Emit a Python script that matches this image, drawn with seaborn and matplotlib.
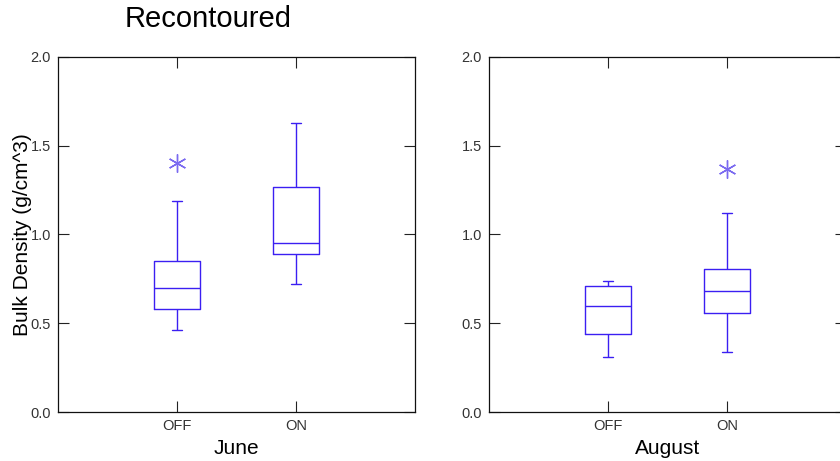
import numpy as np
import pandas as pd
import matplotlib
matplotlib.use("Agg")
import matplotlib.pyplot as plt
import seaborn as sns

# Box summaries per month and treatment: whisker ends, quartiles, median, outliers
treatments = ["OFF", "ON"]
months = ["June", "August"]

june_low = [0.46, 0.72]
june_q1 = [0.58, 0.89]
june_median = [0.70, 0.95]
june_q3 = [0.85, 1.27]
june_high = [1.19, 1.63]
june_outliers = [[1.40], []]

aug_low = [0.31, 0.34]
aug_q1 = [0.44, 0.555]
aug_median = [0.60, 0.68]
aug_q3 = [0.71, 0.805]
aug_high = [0.74, 1.12]
aug_outliers = [[], [1.37]]

yticks = [0.0, 0.5, 1.0, 1.5, 2.0]


def samples(lo, q1, med, q3, hi, out):
    """Observations whose linear-interpolated quartiles equal the summary."""
    if out:
        vals = [lo, q1, q1, med, med, q3, q3, hi] + list(out)
    else:
        vals = [lo, q1, med, q3, hi]
    return vals


def build_frame(low, q1, med, q3, high, outliers):
    rows = []
    for i, t in enumerate(treatments):
        for v in samples(low[i], q1[i], med[i], q3[i], high[i], outliers[i]):
            rows.append({"treatment": t, "density": v})
    return pd.DataFrame(rows)


frames = {
    "June": build_frame(june_low, june_q1, june_median, june_q3, june_high, june_outliers),
    "August": build_frame(aug_low, aug_q1, aug_median, aug_q3, aug_high, aug_outliers),
}

sns.set_style("white")
plt.rcParams["font.family"] = ["Liberation Sans", "DejaVu Sans"]
plt.rcParams["text.color"] = "black"

LINE = "#3b1ff2"
FLIER = "#7a6af0"

fig = plt.figure(figsize=(8.4, 4.61), dpi=100)
W, H = 840.0, 461.0
bottom = (H - 412) / H
height = 355 / H
axes = [
    fig.add_axes([58 / W, bottom, 357 / W, height]),
    fig.add_axes([489 / W, bottom, 357 / W, height]),
]

for ax, month in zip(axes, months):
    sns.boxplot(
        data=frames[month], x="treatment", y="density", order=treatments,
        fill=False, color=LINE, linecolor=LINE, width=0.38, linewidth=1.0,
        whis=1.5, capwidths=0.085,
        flierprops=dict(marker=(6, 2, 0), markersize=13, markeredgecolor=FLIER,
                        markerfacecolor=FLIER, markeredgewidth=1.0),
        ax=ax,
    )
    ax.set_xlim(-1, 2)
    ax.set_ylim(0, 2.0)
    ax.set_yticks(yticks)
    ax.set_yticklabels([f"{v:.1f}" for v in yticks])
    ax.set_xticks(range(len(treatments)))
    ax.set_xticklabels(treatments)
    ax.tick_params(direction="in", length=8, width=0.8, color="#222222",
                   labelsize=10.5, labelcolor="#333333", pad=5,
                   top=True, right=True, bottom=True, left=True)
    for s in ax.spines.values():
        s.set_visible(True)
        s.set_color("#111111")
        s.set_linewidth(0.9)
    ax.set_xlabel(month, fontsize=15, labelpad=4, color="black")
    ax.set_ylabel("")
    ax.grid(False)

axes[0].set_ylabel("Bulk Density (g/cm^3)", fontsize=15, labelpad=-1, color="black")
fig.text(208 / W, 1 - 19 / H, "Recontoured", fontsize=21, ha="center", va="center",
         color="black")

fig.savefig("out.png", dpi=100)
